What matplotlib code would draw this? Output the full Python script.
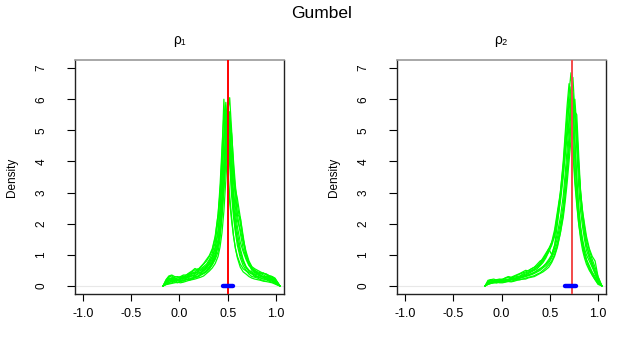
import numpy as np
import matplotlib.pyplot as plt

plt.rcParams['font.family'] = ['Liberation Sans', 'DejaVu Sans']

# x grids for the density curves
x_rho1 = [-0.17, -0.14, -0.11, -0.08, -0.05, -0.02, 0.01, 0.04, 0.07, 0.10, 0.13, 0.16,
          0.19, 0.22, 0.25, 0.28, 0.31, 0.34, 0.37, 0.40, 0.42, 0.44, 0.46, 0.48, 0.50,
          0.52, 0.54, 0.56, 0.58, 0.60, 0.63, 0.66, 0.69, 0.72, 0.75, 0.78, 0.81, 0.84,
          0.87, 0.90, 0.93, 0.96, 0.99, 1.02, 1.04]
x_rho2 = [-0.17, -0.14, -0.11, -0.08, -0.05, -0.02, 0.01, 0.04, 0.07, 0.10, 0.13, 0.16,
          0.19, 0.22, 0.25, 0.28, 0.31, 0.34, 0.37, 0.40, 0.43, 0.46, 0.49, 0.52, 0.55,
          0.58, 0.61, 0.64, 0.66, 0.68, 0.70, 0.72, 0.74, 0.76, 0.78, 0.80, 0.82, 0.84,
          0.86, 0.88, 0.91, 0.94, 0.97, 1.00, 1.04]

# posterior densities of rho1, one list per replicate
dens_rho1 = [
    [0, 0.12, 0.28, 0.33, 0.25, 0.2, 0.22, 0.3, 0.28, 0.35, 0.42, 0.4, 0.48, 0.55, 0.62, 0.7,
     0.85, 1.05, 1.4, 2.1, 2.9, 4.2, 6.0, 4.6, 3.5, 2.7, 2.1, 1.6, 1.2, 0.95, 0.7, 0.55, 0.48,
     0.42, 0.4, 0.35, 0.3, 0.33, 0.28, 0.3, 0.25, 0.2, 0.15, 0.06, 0],
    [0, 0.05, 0.1, 0.15, 0.18, 0.12, 0.15, 0.18, 0.22, 0.2, 0.25, 0.3, 0.28, 0.35, 0.4, 0.48,
     0.55, 0.7, 0.9, 1.3, 1.8, 2.6, 3.6, 4.8, 5.6, 6.05, 5.0, 3.8, 3.0, 2.3, 1.7, 1.2, 0.9,
     0.7, 0.55, 0.5, 0.45, 0.42, 0.4, 0.38, 0.32, 0.3, 0.22, 0.08, 0],
    [0, 0.08, 0.15, 0.2, 0.22, 0.18, 0.2, 0.25, 0.3, 0.28, 0.32, 0.38, 0.45, 0.42, 0.5, 0.6,
     0.72, 0.85, 1.1, 1.5, 2.0, 2.9, 4.0, 5.0, 5.75, 5.3, 4.2, 3.3, 3.1, 2.8, 2.2, 1.5, 1.0,
     0.75, 0.6, 0.45, 0.4, 0.35, 0.3, 0.28, 0.3, 0.22, 0.18, 0.05, 0],
    [0, 0.15, 0.25, 0.22, 0.28, 0.3, 0.25, 0.28, 0.35, 0.4, 0.45, 0.52, 0.5, 0.6, 0.7, 0.8,
     0.95, 1.15, 1.55, 2.3, 3.0, 3.9, 4.7, 5.3, 5.0, 4.2, 3.3, 2.6, 2.1, 1.7, 1.2, 0.85, 0.6,
     0.5, 0.4, 0.35, 0.28, 0.25, 0.22, 0.2, 0.18, 0.15, 0.1, 0.04, 0],
    [0, 0.05, 0.08, 0.1, 0.15, 0.2, 0.18, 0.15, 0.2, 0.25, 0.22, 0.28, 0.32, 0.38, 0.42, 0.5,
     0.6, 0.75, 0.95, 1.3, 1.7, 2.4, 3.4, 4.5, 5.4, 5.0, 3.9, 3.0, 2.5, 2.1, 1.8, 1.4, 1.0,
     0.75, 0.58, 0.5, 0.42, 0.4, 0.35, 0.3, 0.28, 0.25, 0.2, 0.08, 0],
    [0, 0.1, 0.2, 0.25, 0.2, 0.18, 0.22, 0.28, 0.25, 0.3, 0.35, 0.33, 0.4, 0.45, 0.52, 0.58,
     0.68, 0.8, 1.0, 1.35, 1.7, 2.3, 3.1, 4.0, 4.9, 5.6, 4.8, 3.6, 2.7, 2.3, 2.2, 1.6, 1.0,
     0.7, 0.5, 0.42, 0.38, 0.3, 0.28, 0.25, 0.22, 0.2, 0.12, 0.05, 0],
    [0, 0.18, 0.3, 0.28, 0.22, 0.25, 0.28, 0.32, 0.3, 0.38, 0.4, 0.45, 0.55, 0.5, 0.58, 0.65,
     0.8, 0.95, 1.25, 1.8, 2.5, 3.6, 4.9, 5.9, 5.1, 3.9, 2.9, 2.2, 1.7, 1.3, 0.9, 0.65, 0.5,
     0.38, 0.3, 0.28, 0.25, 0.2, 0.18, 0.2, 0.15, 0.12, 0.08, 0.03, 0],
    [0, 0.08, 0.12, 0.15, 0.12, 0.1, 0.14, 0.18, 0.2, 0.18, 0.22, 0.26, 0.3, 0.35, 0.4, 0.45,
     0.55, 0.68, 0.85, 1.1, 1.5, 2.2, 3.1, 4.1, 5.0, 4.6, 3.7, 2.9, 2.3, 1.9, 1.4, 1.1, 0.85,
     0.65, 0.55, 0.45, 0.4, 0.38, 0.42, 0.35, 0.3, 0.28, 0.22, 0.1, 0],
    [0, 0.2, 0.32, 0.35, 0.3, 0.28, 0.3, 0.35, 0.35, 0.42, 0.48, 0.56, 0.52, 0.62, 0.72, 0.85,
     0.98, 1.2, 1.6, 2.3, 3.2, 4.4, 5.5, 4.8, 3.8, 2.9, 2.2, 1.6, 1.2, 0.9, 0.6, 0.45, 0.38,
     0.3, 0.25, 0.22, 0.2, 0.18, 0.15, 0.14, 0.12, 0.1, 0.06, 0.02, 0],
    [0, 0.04, 0.06, 0.08, 0.1, 0.12, 0.1, 0.12, 0.15, 0.18, 0.2, 0.22, 0.25, 0.28, 0.32, 0.4,
     0.48, 0.58, 0.72, 0.95, 1.25, 1.7, 2.4, 3.4, 4.4, 5.3, 4.9, 4.0, 3.2, 2.6, 2.0, 1.5, 1.1,
     0.8, 0.62, 0.55, 0.5, 0.45, 0.4, 0.38, 0.33, 0.3, 0.25, 0.1, 0],
    [0, 0.1, 0.18, 0.2, 0.25, 0.2, 0.15, 0.22, 0.25, 0.3, 0.28, 0.32, 0.38, 0.4, 0.48, 0.55,
     0.62, 0.75, 0.98, 1.35, 1.9, 2.7, 3.8, 5.0, 5.9, 5.1, 3.6, 2.5, 1.9, 1.5, 1.1, 0.8, 0.62,
     0.5, 0.45, 0.38, 0.35, 0.32, 0.3, 0.25, 0.22, 0.18, 0.14, 0.05, 0],
    [0, 0.12, 0.2, 0.18, 0.15, 0.2, 0.26, 0.24, 0.3, 0.32, 0.38, 0.42, 0.45, 0.5, 0.55, 0.62,
     0.75, 0.92, 1.2, 1.7, 2.3, 3.3, 4.6, 5.6, 5.2, 4.3, 3.2, 2.4, 1.8, 1.45, 1.0, 0.75, 0.58,
     0.46, 0.38, 0.3, 0.3, 0.26, 0.25, 0.22, 0.2, 0.18, 0.12, 0.05, 0],
]

# posterior densities of rho2
dens_rho2 = [
    [0, 0.1, 0.18, 0.15, 0.12, 0.16, 0.14, 0.18, 0.2, 0.22, 0.25, 0.24, 0.3, 0.32, 0.35, 0.4,
     0.45, 0.5, 0.55, 0.65, 0.75, 0.9, 1.1, 1.4, 1.8, 2.4, 3.0, 3.9, 4.7, 5.5, 6.2, 6.85, 6.0,
     4.8, 3.5, 2.5, 1.9, 1.5, 1.2, 1.0, 0.8, 0.6, 0.4, 0.2, 0],
    [0, 0.08, 0.12, 0.14, 0.16, 0.12, 0.15, 0.17, 0.15, 0.2, 0.22, 0.26, 0.25, 0.3, 0.33, 0.36,
     0.4, 0.44, 0.5, 0.55, 0.62, 0.72, 0.85, 1.0, 1.3, 1.7, 2.2, 2.9, 3.6, 4.4, 5.2, 6.0, 6.7,
     5.6, 5.5, 4.2, 3.0, 2.2, 1.7, 1.3, 1.0, 0.7, 0.45, 0.22, 0],
    [0, 0.12, 0.2, 0.18, 0.2, 0.15, 0.2, 0.22, 0.2, 0.25, 0.28, 0.3, 0.32, 0.38, 0.42, 0.45,
     0.5, 0.55, 0.62, 0.7, 0.85, 1.0, 1.2, 1.0, 1.3, 2.0, 2.8, 3.8, 4.5, 4.9, 6.0, 5.4, 4.3,
     3.3, 2.6, 2.0, 1.6, 1.3, 1.05, 0.85, 0.65, 0.45, 0.3, 0.12, 0],
    [0, 0.05, 0.08, 0.1, 0.1, 0.12, 0.12, 0.14, 0.15, 0.15, 0.18, 0.2, 0.2, 0.22, 0.25, 0.28,
     0.3, 0.33, 0.38, 0.42, 0.5, 0.58, 0.68, 0.8, 1.0, 1.3, 1.7, 2.2, 2.7, 3.3, 4.0, 4.7, 5.3,
     5.6, 5.0, 3.9, 3.0, 2.4, 1.9, 1.5, 1.15, 0.85, 0.6, 0.3, 0],
    [0, 0.15, 0.2, 0.22, 0.18, 0.2, 0.22, 0.25, 0.28, 0.26, 0.3, 0.34, 0.38, 0.42, 0.45, 0.5,
     0.55, 0.6, 0.65, 0.75, 0.9, 1.05, 1.2, 1.4, 1.6, 2.1, 2.7, 3.5, 4.3, 5.1, 5.8, 6.4, 5.7,
     4.5, 3.4, 2.5, 1.8, 1.3, 1.0, 0.8, 0.55, 0.35, 0.2, 0.08, 0],
    [0, 0.05, 0.08, 0.1, 0.12, 0.1, 0.1, 0.12, 0.14, 0.13, 0.15, 0.18, 0.2, 0.22, 0.22, 0.26,
     0.28, 0.3, 0.35, 0.4, 0.45, 0.52, 0.6, 0.75, 0.95, 1.25, 1.7, 2.3, 2.9, 3.6, 4.4, 5.2,
     5.9, 5.4, 4.6, 3.7, 3.0, 2.4, 2.0, 1.6, 1.2, 0.95, 0.8, 0.3, 0],
    [0, 0.1, 0.14, 0.12, 0.16, 0.18, 0.15, 0.2, 0.22, 0.24, 0.22, 0.28, 0.3, 0.35, 0.38, 0.42,
     0.48, 0.52, 0.6, 0.68, 0.8, 0.95, 1.1, 1.3, 1.6, 2.2, 3.0, 4.0, 4.9, 5.8, 6.5, 5.8, 4.6,
     3.5, 2.7, 2.0, 1.5, 1.15, 0.9, 0.7, 0.5, 0.35, 0.2, 0.05, 0],
    [0, 0.08, 0.1, 0.12, 0.14, 0.16, 0.18, 0.16, 0.18, 0.2, 0.24, 0.22, 0.26, 0.3, 0.32, 0.35,
     0.38, 0.42, 0.48, 0.55, 0.62, 0.7, 0.8, 0.95, 1.2, 1.55, 2.0, 2.6, 3.3, 4.0, 4.8, 5.6,
     6.2, 5.5, 4.4, 3.2, 2.4, 1.9, 1.5, 1.15, 0.9, 0.65, 0.4, 0.15, 0],
    [0, 0.18, 0.2, 0.16, 0.2, 0.22, 0.2, 0.26, 0.3, 0.28, 0.32, 0.36, 0.4, 0.45, 0.5, 0.48,
     0.55, 0.6, 0.7, 0.8, 0.85, 1.0, 1.15, 1.35, 1.7, 2.3, 2.9, 3.6, 4.2, 4.8, 5.3, 5.8, 5.2,
     4.0, 3.0, 2.3, 1.8, 1.4, 1.1, 0.85, 0.6, 0.4, 0.25, 0.1, 0],
    [0, 0.06, 0.1, 0.12, 0.1, 0.13, 0.15, 0.14, 0.17, 0.2, 0.2, 0.22, 0.25, 0.27, 0.3, 0.33,
     0.36, 0.4, 0.45, 0.5, 0.58, 0.65, 0.75, 0.9, 1.1, 1.4, 1.85, 2.4, 3.0, 3.7, 4.4, 5.1,
     5.7, 6.0, 5.1, 3.8, 2.8, 2.2, 1.7, 1.35, 1.0, 0.75, 0.5, 0.2, 0],
]

true_values = [0.503, 0.727]
interval_rho1 = [0.452, 0.553]
interval_rho2 = [0.662, 0.775]

panels = [
    ('ρ₁', x_rho1, dens_rho1, true_values[0], interval_rho1, '#ff0000'),
    ('ρ₂', x_rho2, dens_rho2, true_values[1], interval_rho2, '#f24a4a'),
]

fig = plt.figure(figsize=(6.44, 3.45), dpi=100)
fig.text(0.5, 1 - 14 / 345, 'Gumbel', ha='center', va='center', fontsize=12.5)

lefts = [75 / 644, 397 / 644]
for left, (title, xs, dens, truth, ci, red) in zip(lefts, panels):
    ax = fig.add_axes([left, 1 - 294 / 345, 209 / 644, 234 / 345])
    ax.axhline(0, color='#e8e8e8', lw=0.8, zorder=1)
    for d in dens:
        ax.plot(xs, d, color='#00ff00', lw=0.9, zorder=2)
    ax.axvline(truth, color=red, lw=1.4, zorder=3)
    ax.plot(ci, [0, 0], color='#0000ff', lw=3.2, solid_capstyle='round', zorder=4)

    ax.set_xlim(-1.083, 1.083)
    ax.set_ylim(-0.26, 7.26)
    ax.set_xticks([-1.0, -0.5, 0.0, 0.5, 1.0])
    ax.set_xticklabels(['-1.0', '-0.5', '0.0', '0.5', '1.0'])
    ax.set_yticks(range(8))
    ax.set_yticklabels([str(v) for v in range(8)], rotation=90, va='center')
    ax.tick_params(axis='x', length=5, width=0.8, pad=5, labelsize=9)
    ax.tick_params(axis='y', length=6, width=0.8, pad=14, labelsize=8.5)
    for s in ['left', 'bottom', 'right']:
        ax.spines[s].set_color('#222222')
        ax.spines[s].set_linewidth(1.0)
    ax.spines['top'].set_color('#999999')
    ax.spines['top'].set_linewidth(1.2)

    fig.text(left + 104 / 644, 1 - 40 / 345, title, ha='center', va='center', fontsize=10)
    fig.text(left - 63 / 644, 1 - 177 / 345, 'Density', rotation=90,
             ha='center', va='center', fontsize=8.5)

fig.savefig('out.png', dpi=100)
